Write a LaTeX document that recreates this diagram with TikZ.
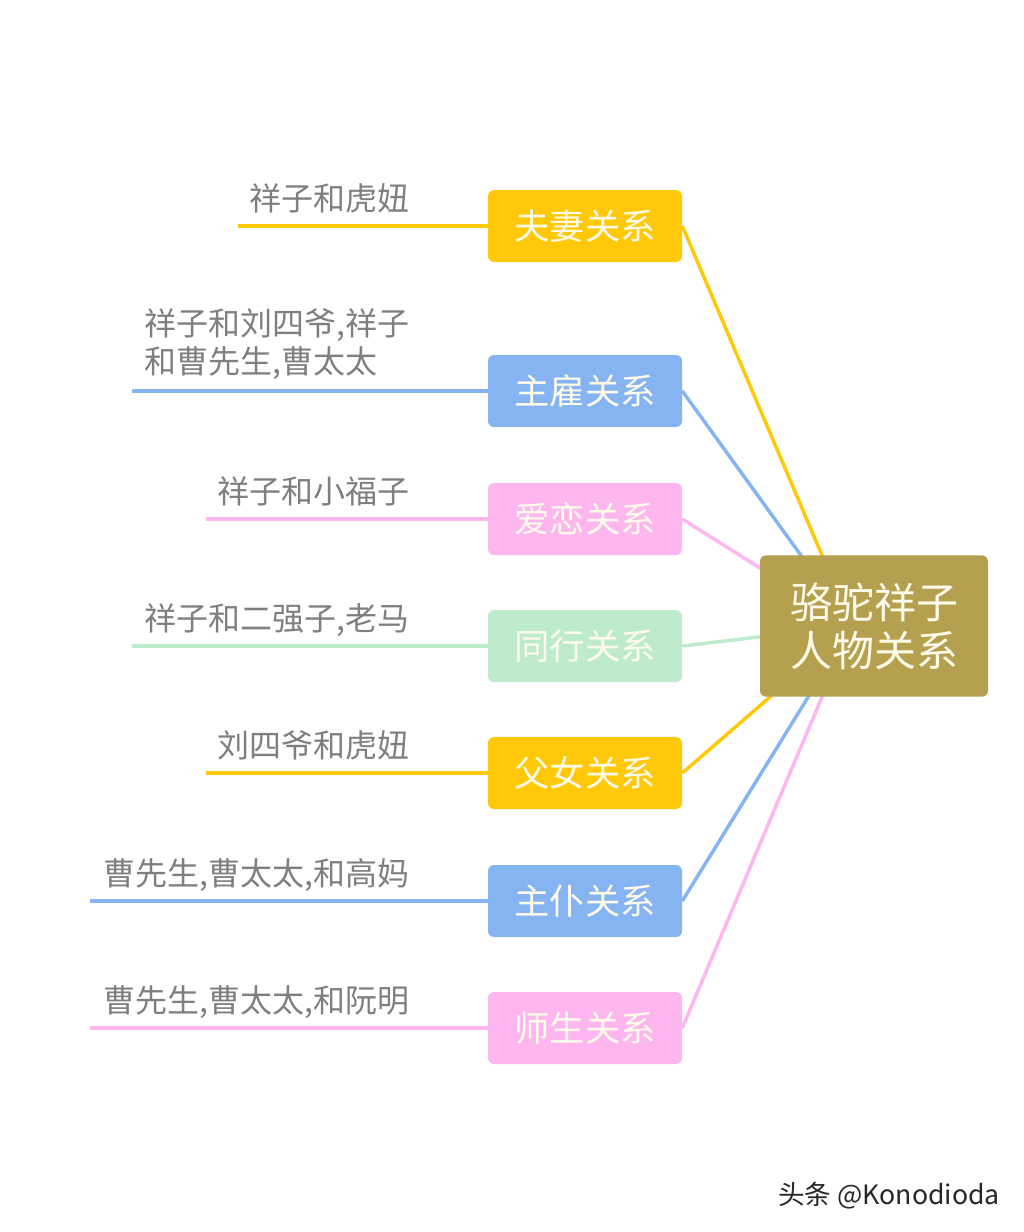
\documentclass[tikz,border=0pt]{standalone}
\usepackage{fontspec}
\setmainfont{Noto Sans CJK SC}
\usepackage{tikz}
\usetikzlibrary{positioning}
\definecolor{RelYellow}{HTML}{FFC808}
\definecolor{RelBlue}{HTML}{86B4F3}
\definecolor{RelPink}{HTML}{FDB6EE}
\definecolor{RelGreen}{HTML}{BDEBCB}
\definecolor{HubOlive}{HTML}{B5A04F}
\definecolor{HubText}{HTML}{FFFBEA}
\definecolor{LeafGray}{HTML}{7F7F7F}

\begin{document}
\begin{tikzpicture}[x=0.75pt,y=-0.75pt]
  \useasboundingbox (0,0) rectangle (1024,1232);
  \tikzstyle{relbox}=[rounded corners=4.5pt,minimum width=145.5pt,
    minimum height=54pt,inner sep=0pt,text=HubText,
    font=\fontsize{26.5}{30}\selectfont]
  \tikzstyle{leaf}=[anchor=base east,inner sep=0pt,text=LeafGray,
    align=left,font=\fontsize{24}{28}\selectfont]
  \tikzstyle{link}=[line width=2.6pt]
  \tikzstyle{underline}=[line width=3pt]
  % relations
  \node[relbox,fill=RelYellow] (fuqi) at (585,226) {夫妻关系};
  \node[relbox,fill=RelBlue] (zhugu) at (585,391) {主雇关系};
  \node[relbox,fill=RelPink] (ailian) at (585,519) {爱恋关系};
  \node[relbox,fill=RelGreen] (tonghang) at (585,646) {同行关系};
  \node[relbox,fill=RelYellow] (funv) at (585,773) {父女关系};
  \node[relbox,fill=RelBlue] (zhupu) at (585,901) {主仆关系};
  \node[relbox,fill=RelPink] (shisheng) at (585,1028) {师生关系};
  % people
  \node[leaf] (fuqi-who) at (410,210) {祥子和虎妞};
  \node[leaf] (zhugu-who) at (410,373) {祥子和刘四爷,祥子\\和曹先生,曹太太};
  \node[leaf] (ailian-who) at (410,503) {祥子和小福子};
  \node[leaf] (tonghang-who) at (410,630) {祥子和二强子,老马};
  \node[leaf] (funv-who) at (410,757) {刘四爷和虎妞};
  \node[leaf] (zhupu-who) at (410,885) {曹先生,曹太太,和高妈};
  \node[leaf] (shisheng-who) at (410,1012) {曹先生,曹太太,和阮明};
  \coordinate (fuqi-end) at (238,226);
  \coordinate (zhugu-end) at (132,391);
  \coordinate (ailian-end) at (206,519);
  \coordinate (tonghang-end) at (132,646);
  \coordinate (funv-end) at (206,773);
  \coordinate (zhupu-end) at (90,901);
  \coordinate (shisheng-end) at (90,1028);
  \draw[underline,color=RelYellow] (fuqi-end)--(fuqi.west);
  \draw[underline,color=RelBlue] (zhugu-end)--(zhugu.west);
  \draw[underline,color=RelPink] (ailian-end)--(ailian.west);
  \draw[underline,color=RelGreen] (tonghang-end)--(tonghang.west);
  \draw[underline,color=RelYellow] (funv-end)--(funv.west);
  \draw[underline,color=RelBlue] (zhupu-end)--(zhupu.west);
  \draw[underline,color=RelPink] (shisheng-end)--(shisheng.west);
  % links to centre (the centre box is laid on top of them)
  \coordinate (hub-focus) at (852,626);
  \draw[link,color=RelYellow] (fuqi.east)--(hub-focus);
  \draw[link,color=RelBlue] (zhugu.east)--(hub-focus);
  \draw[link,color=RelPink] (ailian.east)--(hub-focus);
  \draw[link,color=RelGreen] (tonghang.east)--(hub-focus);
  \draw[link,color=RelYellow] (funv.east)--(hub-focus);
  \draw[link,color=RelBlue] (zhupu.east)--(hub-focus);
  \draw[link,color=RelPink] (shisheng.east)--(hub-focus);
  % centre
  \node[fill=HubOlive,rounded corners=4.5pt,minimum width=171pt,
    minimum height=106pt,align=center,text=HubText,
    font=\fontsize{31.5}{36}\selectfont] (hub) at (874,626) {骆驼祥子\\人物关系};
  \node[anchor=base east,inner sep=0pt,text=black!85,
    font=\fontsize{20}{23}\selectfont] (mark) at (1000,1204) {头条 @Konodioda};
\end{tikzpicture}
\end{document}
